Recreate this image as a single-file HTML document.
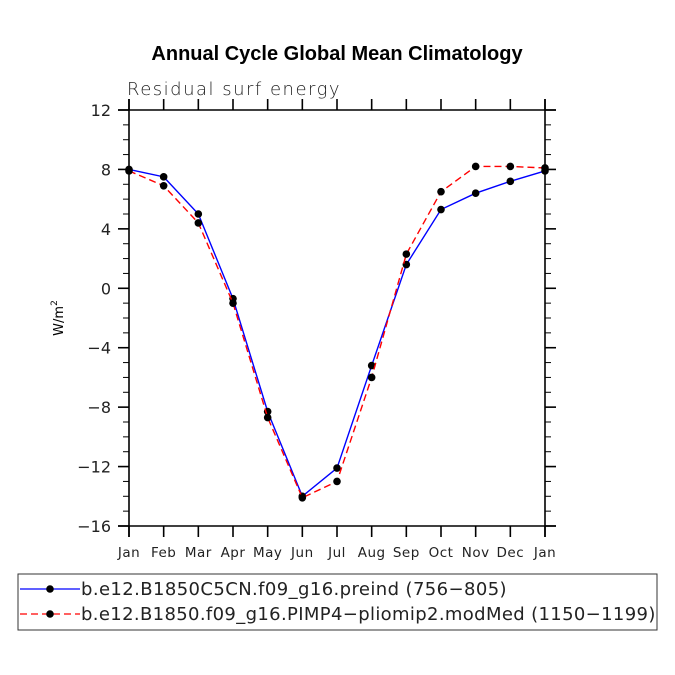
<!DOCTYPE html>
<html><head><meta charset="utf-8"><style>
html,body{margin:0;padding:0;background:#fff;width:675px;height:675px;overflow:hidden}
text{font-family:"DejaVu Sans","Liberation Sans",sans-serif}
</style></head><body>
<svg id="c" width="675" height="675" viewBox="0 0 675 675">
<text x="337" y="60" text-anchor="middle" font-size="20" font-weight="bold" style="font-family:'Liberation Sans',sans-serif">Annual Cycle Global Mean Climatology</text>
<text x="127" y="95" font-size="18" font-weight="200" fill="#222" letter-spacing="1.5">Residual surf energy</text>
<g id="axes"></g>
<g id="series"></g>
<text transform="translate(63,318) rotate(-90)" text-anchor="middle" font-size="13">W/m<tspan font-size="9" dy="-6">2</tspan></text>
<rect x="18" y="574" width="639" height="56" fill="none" stroke="#333" stroke-width="1"/>
<g>
<line x1="20" y1="589" x2="80" y2="589" stroke="#00f" stroke-width="1.3"/>
<circle cx="50" cy="589" r="3.8" fill="#000"/>
<text x="81" y="595" font-size="18" letter-spacing="0.4" fill="#222">b.e12.B1850C5CN.f09_g16.preind (756−805)</text>
</g>
<g>
<line x1="20" y1="614" x2="80" y2="614" stroke="#f00" stroke-width="1.3" stroke-dasharray="7,4"/>
<circle cx="50" cy="614" r="3.8" fill="#000"/>
<text x="81" y="620" font-size="18" letter-spacing="0.35" fill="#222">b.e12.B1850.f09_g16.PIMP4−pliomip2.modMed (1150−1199)</text>
</g>
</svg>
<script>
const months=["Jan","Feb","Mar","Apr","May","Jun","Jul","Aug","Sep","Oct","Nov","Dec","Jan"];
const preind=[8.0,7.5,5.0,-0.7,-8.3,-14.0,-12.1,-5.2,1.6,5.3,6.4,7.2,7.9];
const pliomip=[7.9,6.9,4.4,-1.0,-8.7,-14.1,-13.0,-6.0,2.3,6.5,8.2,8.2,8.1];
const yTicks=[12,8,4,0,-4,-8,-12,-16];
const NS="http://www.w3.org/2000/svg";
const L=129,R=545,T=110,B=526,ymin=-16,ymax=12;
function xs(i){return L+(R-L)*i/(months.length-1);}
function ys(v){return B-(v-ymin)/(ymax-ymin)*(B-T);}
function mk(tag,at,parent){const e=document.createElementNS(NS,tag);for(const k in at)e.setAttribute(k,at[k]);parent.appendChild(e);return e;}
const ax=document.getElementById('axes');
function ln(x1,y1,x2,y2,w,name){const e=mk('line',{x1,y1,x2,y2,stroke:'#000','stroke-width':w},ax);

}
ln(L-11,B,R+11,B,1.6,'x-axis');
ln(L-11,T,R+11,T,1.6,'top-frame');
ln(L,T-11,L,B+11,1.6,'y-axis');
ln(R,T-11,R,B+11,1.6,'right-frame');
months.forEach((m,i)=>{const x=xs(i);
ln(x,B,x,B+11,1.6,'x-tick');ln(x,T,x,T-11,1.6,'x-tick-top');
const t=mk('text',{x:x,y:B+31,'text-anchor':'middle','font-size':'13.5',fill:'#222','letter-spacing':'0.5'},ax);t.textContent=m;

});
for(let v=ymin;v<=ymax;v++){const y=ys(v);const major=yTicks.includes(v);const len=major?11:6;
ln(L-len,y,L,y,major?1.6:1,'y-tick');ln(R,y,R+len,y,major?1.6:1,'y-tick-right');}
yTicks.forEach(v=>{const t=mk('text',{x:L-18,y:ys(v)+6,'text-anchor':'end','font-size':'16',fill:'#222'},ax);t.textContent=(v<0?'−'+(-v):v);

});
const sg=document.getElementById('series');
function series(vals,color,dash,name){
const p=mk('polyline',{points:vals.map((v,i)=>xs(i)+','+ys(v)).join(' '),fill:'none',stroke:color,'stroke-width':1.4,'stroke-dasharray':dash},sg);


vals.forEach((v,i)=>{const c=mk('circle',{cx:xs(i),cy:ys(v),r:3.8,fill:'#000'},sg);

});}
series(preind,'#00f','none','preind');
series(pliomip,'#f00','7,4','pliomip');
</script>
</body></html>
